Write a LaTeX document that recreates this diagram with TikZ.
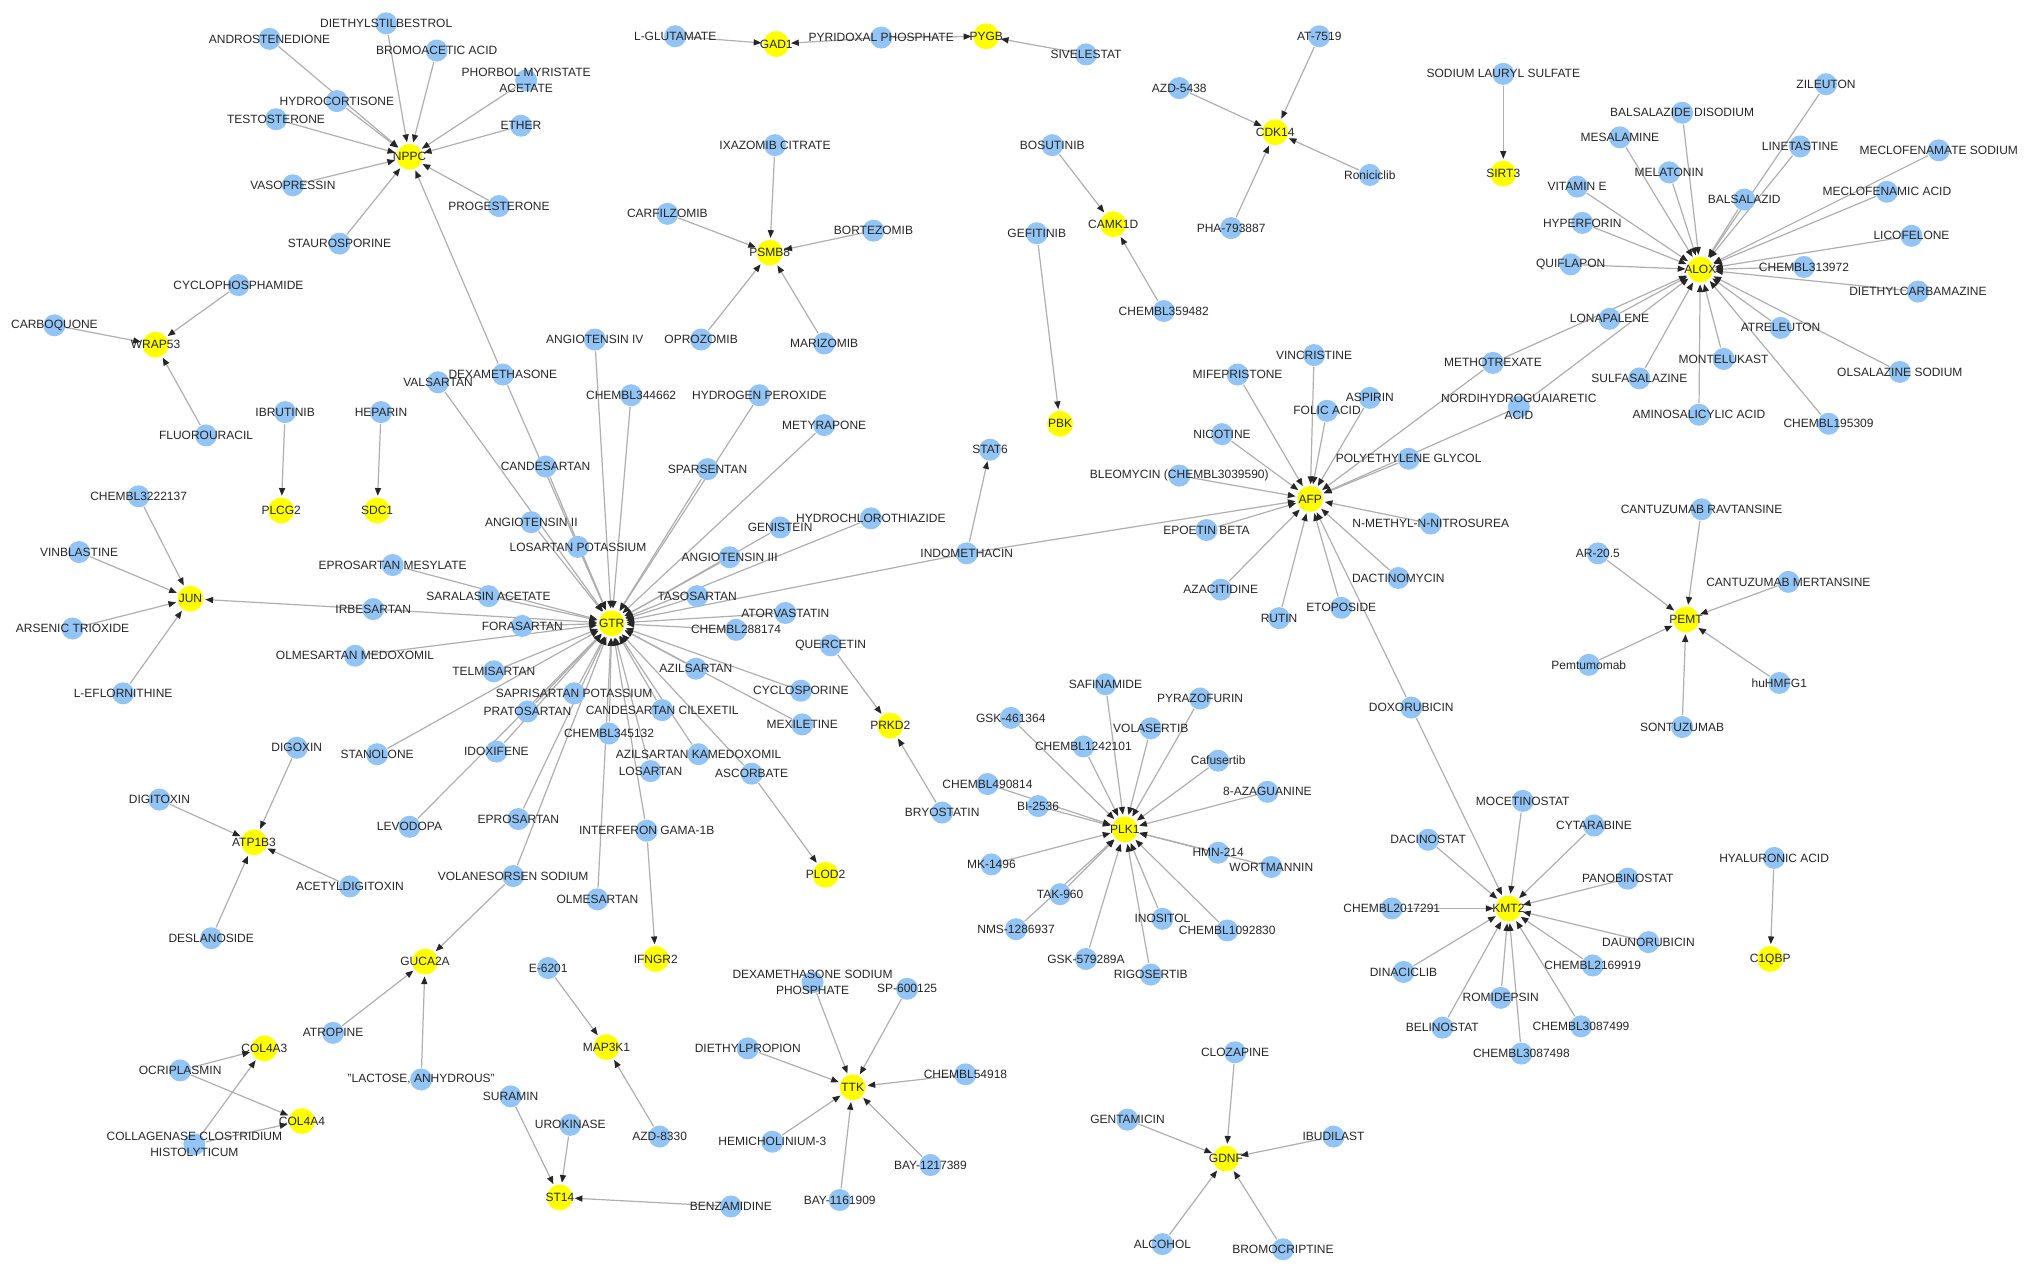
\documentclass[tikz,border=0pt]{standalone}
\usepackage{fontspec}
\setmainfont{Liberation Sans}
\usetikzlibrary{arrows.meta}
\pgfdeclarelayer{background}
\pgfsetlayers{background,main}
\definecolor{drugblue}{RGB}{146,197,245}
\definecolor{geneyellow}{RGB}{255,255,0}
\definecolor{linkgray}{RGB}{175,175,175}
\definecolor{labelgray}{RGB}{38,38,38}
\begin{document}
\begin{tikzpicture}[x=0.03cm, y=-0.03cm,
  drug/.style={circle, fill=drugblue, minimum size=0.51cm, inner sep=0pt, outer sep=0.5pt},
  gene/.style={circle, fill=geneyellow, minimum size=0.6cm, inner sep=0pt, outer sep=1.2pt},
  every label/.style={font=\fontsize{7.9}{11}\selectfont, text=labelgray, align=center, inner sep=0pt},
  acts/.style={draw=linkgray, line width=0.8pt, -{Triangle[length=0.18cm, width=0.14cm, color=black!85]}}]
\useasboundingbox (0,0) rectangle (1568,983);

\node[gene, label={center:NPPC}] (NPPC) at (316,121) {};
\node[gene, label={center:WRAP53}] (WRAP53) at (120,266) {};
\node[gene, label={center:PLCG2}] (PLCG2) at (217,394) {};
\node[gene, label={center:SDC1}] (SDC1) at (291,394) {};
\node[gene, label={center:JUN}] (JUN) at (147,462) {};
\node[gene, label={center:GAD1}] (GAD1) at (599,34) {};
\node[gene, label={center:PYGB}] (PYGB) at (761,28) {};
\node[gene, label={center:PSMB8}] (PSMB8) at (594,195) {};
\node[gene, label={center:CDK14}] (CDK14) at (984,102) {};
\node[gene, label={center:CAMK1D}] (CAMK1D) at (859,173) {};
\node[gene, label={center:PBK}] (PBK) at (818,327) {};
\node[gene, label={center:SIRT3}] (SIRT3) at (1160,134) {};
\node[gene, label={center:ALOX}] (ALOX) at (1312,208) {};
\node[gene, label={center:GTR}] (GTR) at (472,481) {};
\node[gene, label={center:AFP}] (AFP) at (1011,385) {};
\node[gene, label={center:PEMT}] (PEMT) at (1301,478) {};
\node[gene, label={center:PRKD2}] (PRKD2) at (687,560) {};
\node[gene, label={center:PLOD2}] (PLOD2) at (637,675) {};
\node[gene, label={center:IFNGR2}] (IFNGR2) at (506,740) {};
\node[gene, label={center:ATP1B3}] (ATP1B3) at (196,650) {};
\node[gene, label={center:GUCA2A}] (GUCA2A) at (328,742) {};
\node[gene, label={center:COL4A3}] (COL4A3) at (204,809) {};
\node[gene, label={center:COL4A4}] (COL4A4) at (233,865) {};
\node[gene, label={center:MAP3K1}] (MAP3K1) at (468,808) {};
\node[gene, label={center:ST14}] (ST14) at (432,924) {};
\node[gene, label={center:TTK}] (TTK) at (658,839) {};
\node[gene, label={center:PLK1}] (PLK1) at (868,640) {};
\node[gene, label={center:KMT2}] (KMT2) at (1164,701) {};
\node[gene, label={center:C1QBP}] (C1QBP) at (1366,740) {};
\node[gene, label={center:GDNF}] (GDNF) at (946,894) {};
\node[drug, label={center:STAT6}] (STAT6) at (764,347) {};

\node[drug, label={center:ANDROSTENEDIONE}] (ANDRO) at (208,30) {};
\node[drug, label={center:DIETHYLSTILBESTROL}] (DES) at (298,18) {};
\node[drug, label={center:BROMOACETIC ACID}] (BROMO) at (337,39) {};
\node[drug, label={center:PHORBOL MYRISTATE\\ACETATE}] (PMA) at (406,62) {};
\node[drug, label={center:HYDROCORTISONE}] (HYDRO) at (260,78) {};
\node[drug, label={center:TESTOSTERONE}] (TESTO) at (213,92) {};
\node[drug, label={center:ETHER}] (ETHER) at (402,97) {};
\node[drug, label={center:VASOPRESSIN}] (VASO) at (226,143) {};
\node[drug, label={center:PROGESTERONE}] (PROG) at (385,159) {};
\node[drug, label={center:STAUROSPORINE}] (STAURO) at (262,188) {};
\node[drug, label={center:CYCLOPHOSPHAMIDE}] (CYCLO) at (184,220) {};
\node[drug, label={center:CARBOQUONE}] (CARBO) at (42,251) {};
\node[drug, label={center:FLUOROURACIL}] (FLUORO) at (159,336) {};
\node[drug, label={center:IBRUTINIB}] (IBRU) at (220,318) {};
\node[drug, label={center:HEPARIN}] (HEPA) at (294,318) {};
\node[drug, label={center:CHEMBL3222137}] (CH3222) at (107,383) {};
\node[drug, label={center:VINBLASTINE}] (VINBL) at (61,426) {};
\node[drug, label={center:ARSENIC TRIOXIDE}] (ARSEN) at (56,485) {};
\node[drug, label={center:L-EFLORNITHINE}] (EFLOR) at (95,535) {};
\node[drug, label={center:L-GLUTAMATE}] (LGLU) at (521,28) {};
\node[drug, label={center:PYRIDOXAL PHOSPHATE}] (PYRI) at (680,29) {};
\node[drug, label={center:SIVELESTAT}] (SIVE) at (838,42) {};
\node[drug, label={center:IXAZOMIB CITRATE}] (IXAZ) at (598,112) {};
\node[drug, label={center:CARFILZOMIB}] (CARF) at (515,165) {};
\node[drug, label={center:BORTEZOMIB}] (BORT) at (674,178) {};
\node[drug, label={center:OPROZOMIB}] (OPRO) at (541,262) {};
\node[drug, label={center:MARIZOMIB}] (MARI) at (636,265) {};
\node[drug, label={center:AT-7519}] (AT7519) at (1018,28) {};
\node[drug, label={center:AZD-5438}] (AZD5438) at (910,68) {};
\node[drug, label={center:Roniciclib}] (RONI) at (1057,135) {};
\node[drug, label={center:PHA-793887}] (PHA) at (950,176) {};
\node[drug, label={center:BOSUTINIB}] (BOSU) at (812,112) {};
\node[drug, label={center:CHEMBL359482}] (CH359) at (898,240) {};
\node[drug, label={center:GEFITINIB}] (GEFI) at (800,180) {};
\node[drug, label={center:SODIUM LAURYL SULFATE}] (SLS) at (1160,57) {};

\node[drug, label={center:ZILEUTON}] (ZILE) at (1409,65) {};
\node[drug, label={center:BALSALAZIDE DISODIUM}] (BALSD) at (1298,87) {};
\node[drug, label={center:MESALAMINE}] (MESA) at (1250,106) {};
\node[drug, label={center:LINETASTINE}] (LINE) at (1389,113) {};
\node[drug, label={center:MECLOFENAMATE SODIUM}] (MECLS) at (1496,116) {};
\node[drug, label={center:MELATONIN}] (MELA) at (1288,133) {};
\node[drug, label={center:VITAMIN E}] (VITE) at (1217,144) {};
\node[drug, label={center:BALSALAZID}] (BALS) at (1346,154) {};
\node[drug, label={center:MECLOFENAMIC ACID}] (MECLA) at (1456,148) {};
\node[drug, label={center:HYPERFORIN}] (HYPER) at (1221,172) {};
\node[drug, label={center:LICOFELONE}] (LICO) at (1475,182) {};
\node[drug, label={center:QUIFLAPON}] (QUIF) at (1212,204) {};
\node[drug, label={center:CHEMBL313972}] (CH313) at (1392,206) {};
\node[drug, label={center:DIETHYLCARBAMAZINE}] (DIETC) at (1480,225) {};
\node[drug, label={center:LONAPALENE}] (LONA) at (1242,246) {};
\node[drug, label={center:ATRELEUTON}] (ATRE) at (1374,253) {};
\node[drug, label={center:METHOTREXATE}] (METHO) at (1152,280) {};
\node[drug, label={center:MONTELUKAST}] (MONTE) at (1330,277) {};
\node[drug, label={center:SULFASALAZINE}] (SULFA) at (1265,292) {};
\node[drug, label={center:OLSALAZINE SODIUM}] (OLSA) at (1466,287) {};
\node[drug, label={center:NORDIHYDROGUAIARETIC\\ACID}] (NDGA) at (1172,314) {};
\node[drug, label={center:AMINOSALICYLIC ACID}] (AMINO) at (1311,320) {};
\node[drug, label={center:CHEMBL195309}] (CH195) at (1411,327) {};

\node[drug, label={center:VINCRISTINE}] (VINC) at (1014,274) {};
\node[drug, label={center:MIFEPRISTONE}] (MIFE) at (955,289) {};
\node[drug, label={center:FOLIC ACID}] (FOLIC) at (1024,317) {};
\node[drug, label={center:ASPIRIN}] (ASPI) at (1057,307) {};
\node[drug, label={center:NICOTINE}] (NICO) at (943,335) {};
\node[drug, label={center:POLYETHYLENE GLYCOL}] (PEG) at (1087,354) {};
\node[drug, label={center:{BLEOMYCIN (CHEMBL3039590)}}] (BLEO) at (910,367) {};
\node[drug, label={center:EPOETIN BETA}] (EPO) at (931,409) {};
\node[drug, label={center:N-METHYL-N-NITROSUREA}] (MNU) at (1104,404) {};
\node[drug, label={center:DACTINOMYCIN}] (DACT) at (1079,446) {};
\node[drug, label={center:AZACITIDINE}] (AZAC) at (942,455) {};
\node[drug, label={center:RUTIN}] (RUTIN) at (987,477) {};
\node[drug, label={center:ETOPOSIDE}] (ETOP) at (1035,469) {};
\node[drug, label={center:INDOMETHACIN}] (INDO) at (746,427) {};
\node[drug, label={center:DOXORUBICIN}] (DOXO) at (1089,546) {};

\node[drug, label={center:CANTUZUMAB RAVTANSINE}] (CANTR) at (1313,393) {};
\node[drug, label={center:AR-20.5}] (AR205) at (1233,427) {};
\node[drug, label={center:CANTUZUMAB MERTANSINE}] (CANTM) at (1380,449) {};
\node[drug, label={center:Pemtumomab}] (PEMTU) at (1226,513) {};
\node[drug, label={center:huHMFG1}] (HUHM) at (1373,527) {};
\node[drug, label={center:SONTUZUMAB}] (SONT) at (1298,561) {};

\node[drug, label={center:MOCETINOSTAT}] (MOCE) at (1175,618) {};
\node[drug, label={center:CYTARABINE}] (CYTA) at (1230,637) {};
\node[drug, label={center:DACINOSTAT}] (DACI) at (1102,648) {};
\node[drug, label={center:PANOBINOSTAT}] (PANO) at (1256,678) {};
\node[drug, label={center:CHEMBL2017291}] (CH2017) at (1074,701) {};
\node[drug, label={center:DAUNORUBICIN}] (DAUN) at (1272,727) {};
\node[drug, label={center:CHEMBL2169919}] (CH2169) at (1229,745) {};
\node[drug, label={center:DINACICLIB}] (DINA) at (1083,750) {};
\node[drug, label={center:ROMIDEPSIN}] (ROMI) at (1158,770) {};
\node[drug, label={center:CHEMBL3087499}] (CH3087N) at (1220,792) {};
\node[drug, label={center:BELINOSTAT}] (BELI) at (1113,793) {};
\node[drug, label={center:CHEMBL3087498}] (CH3087E) at (1174,813) {};
\node[drug, label={center:HYALURONIC ACID}] (HYAL) at (1369,662) {};

\node[drug, label={center:CLOZAPINE}] (CLOZ) at (953,812) {};
\node[drug, label={center:GENTAMICIN}] (GENT) at (870,864) {};
\node[drug, label={center:IBUDILAST}] (IBUD) at (1029,877) {};
\node[drug, label={center:ALCOHOL}] (ALCO) at (897,960) {};
\node[drug, label={center:BROMOCRIPTINE}] (BROMC) at (990,964) {};

\node[drug, label={center:SAFINAMIDE}] (SAFI) at (853,528) {};
\node[drug, label={center:PYRAZOFURIN}] (PYRA) at (926,539) {};
\node[drug, label={center:GSK-461364}] (GSK461) at (780,554) {};
\node[drug, label={center:VOLASERTIB}] (VOLA) at (888,562) {};
\node[drug, label={center:CHEMBL1242101}] (CH1242) at (836,576) {};
\node[drug, label={center:Cafusertib}] (CAFU) at (940,587) {};
\node[drug, label={center:CHEMBL490814}] (CH4908) at (762,605) {};
\node[drug, label={center:BI-2536}] (BI2536) at (801,622) {};
\node[drug, label={center:8-AZAGUANINE}] (AZAG) at (978,611) {};
\node[drug, label={center:HMN-214}] (HMN) at (940,658) {};
\node[drug, label={center:WORTMANNIN}] (WORT) at (981,669) {};
\node[drug, label={center:MK-1496}] (MK1496) at (765,667) {};
\node[drug, label={center:TAK-960}] (TAK960) at (818,690) {};
\node[drug, label={center:NMS-1286937}] (NMS) at (784,717) {};
\node[drug, label={center:INOSITOL}] (INOS) at (897,709) {};
\node[drug, label={center:CHEMBL1092830}] (CH1092) at (947,718) {};
\node[drug, label={center:GSK-579289A}] (GSK579) at (838,740) {};
\node[drug, label={center:RIGOSERTIB}] (RIGO) at (888,752) {};

\node[drug, label={center:QUERCETIN}] (QUER) at (641,498) {};
\node[drug, label={center:BRYOSTATIN}] (BRYO) at (727,627) {};
\node[drug, label={center:DEXAMETHASONE SODIUM\\PHOSPHATE}] (DEXSP) at (627,758) {};
\node[drug, label={center:SP-600125}] (SP600) at (700,763) {};
\node[drug, label={center:DIETHYLPROPION}] (DIETP) at (577,809) {};
\node[drug, label={center:CHEMBL54918}] (CH549) at (745,829) {};
\node[drug, label={center:HEMICHOLINIUM-3}] (HEMI) at (596,881) {};
\node[drug, label={center:BAY-1217389}] (BAY121) at (718,899) {};
\node[drug, label={center:BAY-1161909}] (BAY116) at (648,926) {};
\node[drug, label={center:E-6201}] (E6201) at (423,747) {};
\node[drug, label={center:AZD-8330}] (AZD8330) at (509,877) {};
\node[drug, label={center:SURAMIN}] (SURA) at (394,846) {};
\node[drug, label={center:UROKINASE}] (UROK) at (440,868) {};
\node[drug, label={center:BENZAMIDINE}] (BENZ) at (564,931) {};
\node[drug, label={center:DIGOXIN}] (DIGOX) at (229,577) {};
\node[drug, label={center:DIGITOXIN}] (DIGIT) at (123,617) {};
\node[drug, label={center:ACETYLDIGITOXIN}] (ACETD) at (270,684) {};
\node[drug, label={center:DESLANOSIDE}] (DESL) at (163,724) {};
\node[drug, label={center:ATROPINE}] (ATRO) at (257,797) {};
\node[drug, label={center:{"LACTOSE, ANHYDROUS"}}] (LACT) at (325,833) {};
\node[drug, label={center:OCRIPLASMIN}] (OCRI) at (139,826) {};
\node[drug, label={center:COLLAGENASE CLOSTRIDIUM\\HISTOLYTICUM}] (COLL) at (150,883) {};

\node[drug, label={center:VALSARTAN}] (VALS) at (338,295) {};
\node[drug, label={center:DEXAMETHASONE}] (DEXA) at (388,289) {};
\node[drug, label={center:ANGIOTENSIN IV}] (ANGIV) at (459,262) {};
\node[drug, label={center:CHEMBL344662}] (CH3446) at (487,305) {};
\node[drug, label={center:HYDROGEN PEROXIDE}] (H2O2) at (586,305) {};
\node[drug, label={center:METYRAPONE}] (METY) at (636,328) {};
\node[drug, label={center:SPARSENTAN}] (SPARS) at (546,362) {};
\node[drug, label={center:CANDESARTAN}] (CANDE) at (421,360) {};
\node[drug, label={center:ANGIOTENSIN II}] (ANGII) at (410,403) {};
\node[drug, label={center:LOSARTAN POTASSIUM}] (LOSP) at (446,422) {};
\node[drug, label={center:GENISTEIN}] (GENI) at (602,407) {};
\node[drug, label={center:HYDROCHLOROTHIAZIDE}] (HCTZ) at (672,400) {};
\node[drug, label={center:ANGIOTENSIN III}] (ANGIII) at (563,430) {};
\node[drug, label={center:EPROSARTAN MESYLATE}] (EPROM) at (303,436) {};
\node[drug, label={center:SARALASIN ACETATE}] (SARA) at (377,460) {};
\node[drug, label={center:IRBESARTAN}] (IRBE) at (288,470) {};
\node[drug, label={center:TASOSARTAN}] (TASO) at (538,460) {};
\node[drug, label={center:FORASARTAN}] (FORA) at (403,483) {};
\node[drug, label={center:ATORVASTATIN}] (ATORV) at (606,473) {};
\node[drug, label={center:CHEMBL288174}] (CH2881) at (568,486) {};
\node[drug, label={center:OLMESARTAN MEDOXOMIL}] (OLMM) at (274,506) {};
\node[drug, label={center:TELMISARTAN}] (TELMI) at (381,518) {};
\node[drug, label={center:AZILSARTAN}] (AZIL) at (537,516) {};
\node[drug, label={center:SAPRISARTAN POTASSIUM}] (SAPRI) at (443,535) {};
\node[drug, label={center:CANDESARTAN CILEXETIL}] (CANDC) at (511,548) {};
\node[drug, label={center:PRATOSARTAN}] (PRATO) at (407,549) {};
\node[drug, label={center:CYCLOSPORINE}] (CYCLOS) at (618,533) {};
\node[drug, label={center:MEXILETINE}] (MEXI) at (619,559) {};
\node[drug, label={center:CHEMBL345132}] (CH3451) at (470,566) {};
\node[drug, label={center:STANOLONE}] (STANO) at (291,582) {};
\node[drug, label={center:IDOXIFENE}] (IDOX) at (383,580) {};
\node[drug, label={center:AZILSARTAN KAMEDOXOMIL}] (AZILK) at (539,582) {};
\node[drug, label={center:LOSARTAN}] (LOSA) at (502,595) {};
\node[drug, label={center:ASCORBATE}] (ASCO) at (580,597) {};
\node[drug, label={center:LEVODOPA}] (LEVO) at (316,638) {};
\node[drug, label={center:EPROSARTAN}] (EPRO) at (400,632) {};
\node[drug, label={center:INTERFERON GAMA-1B}] (IFNG) at (499,641) {};
\node[drug, label={center:VOLANESORSEN SODIUM}] (VOLAN) at (396,676) {};
\node[drug, label={center:OLMESARTAN}] (OLME) at (461,694) {};

\begin{pgfonlayer}{background}
\draw[acts] (ANDRO) -- (NPPC);
\draw[acts] (DES) -- (NPPC);
\draw[acts] (BROMO) -- (NPPC);
\draw[acts] (PMA) -- (NPPC);
\draw[acts] (HYDRO) -- (NPPC);
\draw[acts] (TESTO) -- (NPPC);
\draw[acts] (ETHER) -- (NPPC);
\draw[acts] (VASO) -- (NPPC);
\draw[acts] (PROG) -- (NPPC);
\draw[acts] (STAURO) -- (NPPC);
\draw[acts] (DEXA) -- (NPPC);
\draw[acts] (CYCLO) -- (WRAP53);
\draw[acts] (CARBO) -- (WRAP53);
\draw[acts] (FLUORO) -- (WRAP53);
\draw[acts] (IBRU) -- (PLCG2);
\draw[acts] (HEPA) -- (SDC1);
\draw[acts] (CH3222) -- (JUN);
\draw[acts] (VINBL) -- (JUN);
\draw[acts] (ARSEN) -- (JUN);
\draw[acts] (EFLOR) -- (JUN);
\draw[acts] (IRBE) -- (JUN);
\draw[acts] (LGLU) -- (GAD1);
\draw[acts] (PYRI) -- (GAD1);
\draw[acts] (PYRI) -- (PYGB);
\draw[acts] (SIVE) -- (PYGB);
\draw[acts] (IXAZ) -- (PSMB8);
\draw[acts] (CARF) -- (PSMB8);
\draw[acts] (BORT) -- (PSMB8);
\draw[acts] (OPRO) -- (PSMB8);
\draw[acts] (MARI) -- (PSMB8);
\draw[acts] (AT7519) -- (CDK14);
\draw[acts] (AZD5438) -- (CDK14);
\draw[acts] (RONI) -- (CDK14);
\draw[acts] (PHA) -- (CDK14);
\draw[acts] (BOSU) -- (CAMK1D);
\draw[acts] (CH359) -- (CAMK1D);
\draw[acts] (GEFI) -- (PBK);
\draw[acts] (SLS) -- (SIRT3);
\draw[acts] (ZILE) -- (ALOX);
\draw[acts] (BALSD) -- (ALOX);
\draw[acts] (MESA) -- (ALOX);
\draw[acts] (LINE) -- (ALOX);
\draw[acts] (MECLS) -- (ALOX);
\draw[acts] (MELA) -- (ALOX);
\draw[acts] (VITE) -- (ALOX);
\draw[acts] (BALS) -- (ALOX);
\draw[acts] (MECLA) -- (ALOX);
\draw[acts] (HYPER) -- (ALOX);
\draw[acts] (LICO) -- (ALOX);
\draw[acts] (QUIF) -- (ALOX);
\draw[acts] (CH313) -- (ALOX);
\draw[acts] (DIETC) -- (ALOX);
\draw[acts] (LONA) -- (ALOX);
\draw[acts] (ATRE) -- (ALOX);
\draw[acts] (METHO) -- (ALOX);
\draw[acts] (MONTE) -- (ALOX);
\draw[acts] (SULFA) -- (ALOX);
\draw[acts] (OLSA) -- (ALOX);
\draw[acts] (NDGA) -- (ALOX);
\draw[acts] (AMINO) -- (ALOX);
\draw[acts] (CH195) -- (ALOX);
\draw[acts] (VINC) -- (AFP);
\draw[acts] (MIFE) -- (AFP);
\draw[acts] (FOLIC) -- (AFP);
\draw[acts] (ASPI) -- (AFP);
\draw[acts] (NICO) -- (AFP);
\draw[acts] (PEG) -- (AFP);
\draw[acts] (BLEO) -- (AFP);
\draw[acts] (EPO) -- (AFP);
\draw[acts] (MNU) -- (AFP);
\draw[acts] (DACT) -- (AFP);
\draw[acts] (AZAC) -- (AFP);
\draw[acts] (RUTIN) -- (AFP);
\draw[acts] (ETOP) -- (AFP);
\draw[acts] (INDO) -- (AFP);
\draw[acts] (METHO) -- (AFP);
\draw[acts] (NDGA) -- (AFP);
\draw[acts] (DOXO) -- (AFP);
\draw[acts] (INDO) -- (STAT6);
\draw[acts] (CANTR) -- (PEMT);
\draw[acts] (AR205) -- (PEMT);
\draw[acts] (CANTM) -- (PEMT);
\draw[acts] (PEMTU) -- (PEMT);
\draw[acts] (HUHM) -- (PEMT);
\draw[acts] (SONT) -- (PEMT);
\draw[acts] (DOXO) -- (KMT2);
\draw[acts] (MOCE) -- (KMT2);
\draw[acts] (CYTA) -- (KMT2);
\draw[acts] (DACI) -- (KMT2);
\draw[acts] (PANO) -- (KMT2);
\draw[acts] (CH2017) -- (KMT2);
\draw[acts] (DAUN) -- (KMT2);
\draw[acts] (CH2169) -- (KMT2);
\draw[acts] (DINA) -- (KMT2);
\draw[acts] (ROMI) -- (KMT2);
\draw[acts] (CH3087N) -- (KMT2);
\draw[acts] (BELI) -- (KMT2);
\draw[acts] (CH3087E) -- (KMT2);
\draw[acts] (HYAL) -- (C1QBP);
\draw[acts] (CLOZ) -- (GDNF);
\draw[acts] (GENT) -- (GDNF);
\draw[acts] (IBUD) -- (GDNF);
\draw[acts] (ALCO) -- (GDNF);
\draw[acts] (BROMC) -- (GDNF);
\draw[acts] (SAFI) -- (PLK1);
\draw[acts] (PYRA) -- (PLK1);
\draw[acts] (GSK461) -- (PLK1);
\draw[acts] (VOLA) -- (PLK1);
\draw[acts] (CH1242) -- (PLK1);
\draw[acts] (CAFU) -- (PLK1);
\draw[acts] (CH4908) -- (PLK1);
\draw[acts] (BI2536) -- (PLK1);
\draw[acts] (AZAG) -- (PLK1);
\draw[acts] (HMN) -- (PLK1);
\draw[acts] (WORT) -- (PLK1);
\draw[acts] (MK1496) -- (PLK1);
\draw[acts] (TAK960) -- (PLK1);
\draw[acts] (NMS) -- (PLK1);
\draw[acts] (INOS) -- (PLK1);
\draw[acts] (CH1092) -- (PLK1);
\draw[acts] (GSK579) -- (PLK1);
\draw[acts] (RIGO) -- (PLK1);
\draw[acts] (QUER) -- (PRKD2);
\draw[acts] (BRYO) -- (PRKD2);
\draw[acts] (ASCO) -- (PLOD2);
\draw[acts] (IFNG) -- (IFNGR2);
\draw[acts] (DEXSP) -- (TTK);
\draw[acts] (SP600) -- (TTK);
\draw[acts] (DIETP) -- (TTK);
\draw[acts] (CH549) -- (TTK);
\draw[acts] (HEMI) -- (TTK);
\draw[acts] (BAY121) -- (TTK);
\draw[acts] (BAY116) -- (TTK);
\draw[acts] (E6201) -- (MAP3K1);
\draw[acts] (AZD8330) -- (MAP3K1);
\draw[acts] (SURA) -- (ST14);
\draw[acts] (UROK) -- (ST14);
\draw[acts] (BENZ) -- (ST14);
\draw[acts] (DIGOX) -- (ATP1B3);
\draw[acts] (DIGIT) -- (ATP1B3);
\draw[acts] (ACETD) -- (ATP1B3);
\draw[acts] (DESL) -- (ATP1B3);
\draw[acts] (VOLAN) -- (GUCA2A);
\draw[acts] (ATRO) -- (GUCA2A);
\draw[acts] (LACT) -- (GUCA2A);
\draw[acts] (OCRI) -- (COL4A3);
\draw[acts] (COLL) -- (COL4A3);
\draw[acts] (OCRI) -- (COL4A4);
\draw[acts] (COLL) -- (COL4A4);
\draw[acts] (DEXA) -- (GTR);
\draw[acts] (VALS) -- (GTR);
\draw[acts] (ANGIV) -- (GTR);
\draw[acts] (CH3446) -- (GTR);
\draw[acts] (H2O2) -- (GTR);
\draw[acts] (METY) -- (GTR);
\draw[acts] (SPARS) -- (GTR);
\draw[acts] (CANDE) -- (GTR);
\draw[acts] (ANGII) -- (GTR);
\draw[acts] (LOSP) -- (GTR);
\draw[acts] (GENI) -- (GTR);
\draw[acts] (HCTZ) -- (GTR);
\draw[acts] (ANGIII) -- (GTR);
\draw[acts] (EPROM) -- (GTR);
\draw[acts] (SARA) -- (GTR);
\draw[acts] (IRBE) -- (GTR);
\draw[acts] (TASO) -- (GTR);
\draw[acts] (INDO) -- (GTR);
\draw[acts] (FORA) -- (GTR);
\draw[acts] (ATORV) -- (GTR);
\draw[acts] (CH2881) -- (GTR);
\draw[acts] (OLMM) -- (GTR);
\draw[acts] (TELMI) -- (GTR);
\draw[acts] (AZIL) -- (GTR);
\draw[acts] (SAPRI) -- (GTR);
\draw[acts] (CANDC) -- (GTR);
\draw[acts] (PRATO) -- (GTR);
\draw[acts] (CYCLOS) -- (GTR);
\draw[acts] (MEXI) -- (GTR);
\draw[acts] (CH3451) -- (GTR);
\draw[acts] (STANO) -- (GTR);
\draw[acts] (IDOX) -- (GTR);
\draw[acts] (AZILK) -- (GTR);
\draw[acts] (LOSA) -- (GTR);
\draw[acts] (ASCO) -- (GTR);
\draw[acts] (LEVO) -- (GTR);
\draw[acts] (EPRO) -- (GTR);
\draw[acts] (IFNG) -- (GTR);
\draw[acts] (VOLAN) -- (GTR);
\draw[acts] (OLME) -- (GTR);
\end{pgfonlayer}
\end{tikzpicture}
\end{document}
